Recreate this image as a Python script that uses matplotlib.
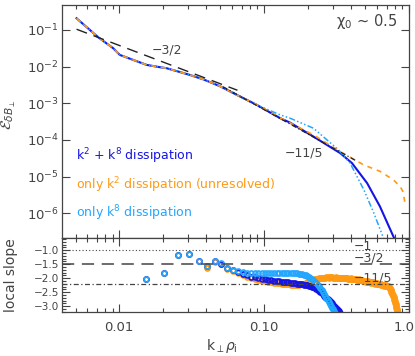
import numpy as np
import matplotlib
matplotlib.use("Agg")
import matplotlib.pyplot as plt
import matplotlib.transforms as mtransforms
from matplotlib.ticker import LogLocator, FixedLocator, MultipleLocator, FuncFormatter, NullFormatter

# ---- spectra ----
k_low = [0.00508, 0.00716, 0.00909, 0.0101, 0.0125, 0.0155, 0.0191, 0.0212,
         0.0256, 0.0305, 0.0381, 0.0497, 0.0648, 0.0891]
E_low = [0.208, 0.0632, 0.0317, 0.0208, 0.0152, 0.0111, 0.00962, 0.00904,
         0.00730, 0.00597, 0.00447, 0.00290, 0.00169, 0.00090]

k_blue_tail = [0.129, 0.151, 0.219, 0.335, 0.404, 0.514, 0.63, 0.78, 0.846]
E_blue_tail = [3.91e-4, 2.96e-4, 1.23e-4, 4.35e-5, 2.32e-5, 6.59e-6, 1.52e-6, 2.31e-7, 1.2e-7]

k_k2_tail = [0.129, 0.219, 0.335, 0.486, 0.634, 0.78, 0.87, 0.91, 0.935]
E_k2_tail = [3.98e-4, 1.37e-4, 4.8e-5, 2.08e-5, 1.37e-5, 8.1e-6, 5.3e-6, 3.8e-6, 2.0e-6]

k_k8_tail = [0.129, 0.151, 0.219, 0.326, 0.392, 0.488, 0.572, 0.66, 0.72]
E_k8_tail = [4.81e-4, 3.91e-4, 2.08e-4, 5.33e-5, 2.32e-5, 4.34e-6, 1.0e-6, 2.31e-7, 1.0e-7]

# reference power laws
ref32_k = [0.00508, 0.0655]
ref32_amp = 0.1045
ref115_k = [0.052, 0.43]
ref115_amp = 2.62e-3

# ---- local slopes, one per Fourier mode starting at n = 3 ----
dk = 0.00508
slope_blue = [
    -2.04, -1.80, -1.17, -1.13, -1.39, -1.57, -1.39, -1.48, -1.63, -1.71, -1.78,
    -1.85, -1.90, -1.94, -1.97, -2.00, -2.02, -2.04, -2.06, -2.08, -2.09,
    -2.10, -2.11, -2.12, -2.13, -2.14, -2.15, -2.16, -2.17, -2.18, -2.19,
    -2.20, -2.21, -2.22, -2.23, -2.24, -2.25, -2.27, -2.29, -2.31, -2.33,
    -2.36, -2.39, -2.42, -2.46, -2.50, -2.54, -2.58, -2.62, -2.66, -2.70,
    -2.74, -2.78, -2.82, -2.86, -2.90, -2.95, -2.99, -3.03, -3.07, -3.11,
    -3.15, -3.19, -3.23]
slope_k8 = [
    -2.04, -1.80, -1.17, -1.13, -1.39, -1.55, -1.39, -1.47, -1.62, -1.70, -1.76,
    -1.79, -1.80, -1.80, -1.81, -1.81, -1.80, -1.80, -1.80, -1.81, -1.81,
    -1.81, -1.81, -1.81, -1.82, -1.82, -1.82, -1.82, -1.82, -1.83, -1.83,
    -1.84, -1.85, -1.86, -1.88, -1.90, -1.93, -1.96, -1.99, -2.03, -2.07,
    -2.12, -2.17, -2.23, -2.29, -2.35, -2.42, -2.49, -2.56, -2.63, -2.70,
    -2.77, -2.84, -2.91, -2.98, -3.05, -3.12, -3.19, -3.26]
slope_k2 = [
    -2.04, -1.81, -1.18, -1.14, -1.40, -1.62, -1.41, -1.50, -1.66, -1.74, -1.83,
    -1.90, -1.95, -1.99, -2.03, -2.06, -2.09, -2.11, -2.13, -2.15, -2.16,
    -2.17, -2.18, -2.19, -2.20, -2.21, -2.22, -2.23, -2.23, -2.24, -2.24,
    -2.23, -2.22, -2.21, -2.19, -2.17, -2.15, -2.13, -2.11, -2.08, -2.06,
    -2.04, -2.03, -2.02, -2.01, -2.00, -1.99, -1.99, -1.98, -1.98, -1.97,
    -1.97, -1.98, -1.97, -1.96, -1.97, -1.98, -1.99, -1.98, -1.97, -1.98,
    -1.99, -2.00, -1.99, -1.98, -1.99, -2.00, -2.01, -2.00, -1.99, -2.00,
    -2.01, -2.02, -2.03, -2.02, -2.01, -2.02, -2.03, -2.04, -2.03, -2.02,
    -2.03, -2.04, -2.05, -2.06, -2.05, -2.04, -2.05, -2.06, -2.07, -2.08,
    -2.09, -2.10, -2.10, -2.09, -2.10, -2.11, -2.12, -2.13, -2.12, -2.11,
    -2.12, -2.13, -2.14, -2.15, -2.16, -2.15, -2.14, -2.15, -2.16, -2.17,
    -2.18, -2.19, -2.18, -2.17, -2.18, -2.19, -2.20, -2.21, -2.22, -2.21,
    -2.20, -2.21, -2.22, -2.23, -2.24, -2.23, -2.24, -2.25, -2.26, -2.27,
    -2.25, -2.26, -2.26, -2.27, -2.27, -2.28, -2.28, -2.29, -2.29, -2.30,
    -2.32, -2.35, -2.38, -2.41, -2.44, -2.48, -2.52, -2.56, -2.60, -2.64,
    -2.68, -2.72, -2.77, -2.82, -2.88, -2.94, -3.00, -3.06, -3.12, -3.18,
    -3.24, -3.30]

c_blue = "#1414e6"
c_orange = "#ff9a12"
c_light = "#22a6ff"
c_gray = "#444444"

plt.rcParams["font.family"] = "DejaVu Sans"
plt.rcParams["mathtext.fontset"] = "dejavusans"

fig = plt.figure(figsize=(4.15, 3.56), dpi=100)
ax1 = fig.add_axes([0.149, 0.3315, 0.8366, 0.6545])
ax2 = fig.add_axes([0.149, 0.1244, 0.8366, 0.2071], sharex=ax1)

# top panel: spectra
ax1.plot(k_low + k_blue_tail, E_low + E_blue_tail, color=c_blue, lw=1.5)
ax1.plot(k_low + k_k8_tail, E_low + E_k8_tail, color=c_light, lw=1.1,
         ls=(0, (4, 1.5, 1, 1.5, 1, 1.5, 1, 1.5)))
ax1.plot(k_low + k_k2_tail, E_low + E_k2_tail, color=c_orange, lw=1.2, ls=(0, (3, 3)))

k32 = np.array(ref32_k)
ax1.plot(k32, ref32_amp * (k32 / ref32_k[0]) ** -1.5, color="#222222", lw=1.0, ls=(0, (8, 5)))
k115 = np.array(ref115_k)
ax1.plot(k115, ref115_amp * (k115 / 0.0538) ** -2.2, color="#222222", lw=0.9,
         ls=(0, (4, 2, 1, 2)))

ax1.text(0.0214, 0.0285, "\u22123/2", color=c_gray, fontsize=9, ha="center", va="center")
ax1.text(0.189, 4.34e-5, "\u221211/5", color=c_gray, fontsize=9, ha="center", va="center")
ax1.text(0.965, 0.931, "\u03c7$_0$ ~ 0.5", color=c_gray, fontsize=10.5,
         ha="right", va="center", transform=ax1.transAxes)
ax1.text(0.042, 0.353, "k$^2$ + k$^8$ dissipation", color=c_blue, fontsize=9,
         ha="left", va="center", transform=ax1.transAxes)
ax1.text(0.042, 0.227, "only k$^2$ dissipation (unresolved)", color=c_orange, fontsize=9,
         ha="left", va="center", transform=ax1.transAxes)
ax1.text(0.042, 0.106, "only k$^8$ dissipation", color=c_light, fontsize=9,
         ha="left", va="center", transform=ax1.transAxes)

ax1.set_xscale("log")
ax1.set_yscale("log")
ax1.set_xlim(0.00402, 1.0)
ax1.set_ylim(2.1e-7, 0.48)
ax1.yaxis.set_major_locator(LogLocator(base=10, numticks=20))
ax1.yaxis.set_minor_locator(FixedLocator([]))
ax1.set_ylabel(r"$\mathcal{E}_{\delta B_\perp}$", fontsize=11, color=c_gray)
ax1.yaxis.set_label_coords(-0.125, 0.53)
plt.setp(ax1.get_xticklabels(), visible=False)

# bottom panel: local slope
k_blue = dk * np.arange(3, 3 + len(slope_blue))
k_k2 = dk * np.arange(3, 3 + len(slope_k2))
k_k8 = dk * np.arange(3, 3 + len(slope_k8))
ax2.plot(k_k2, slope_k2, ls="none", marker="o", ms=3.6, mfc="none", mec=c_orange, mew=1.2)
ax2.plot(k_blue, slope_blue, ls="none", marker="o", ms=3.6, mfc="none", mec=c_blue, mew=1.2)
ax2.plot(k_k8, slope_k8, ls="none", marker="o", ms=3.6, mfc="none", mec=c_light, mew=1.2)

ax2.axhline(-1.0, color=c_gray, lw=0.8, ls=(0, (1, 2)))
ax2.axhline(-1.5, color=c_gray, lw=1.1, ls=(0, (8, 5)))
ax2.axhline(-2.2, color=c_gray, lw=0.9, ls=(0, (4, 2, 1, 2)))
ax2.text(0.412, -0.85, "\u22121", color=c_gray, fontsize=9, ha="left", va="center")
ax2.text(0.412, -1.26, "\u22123/2", color=c_gray, fontsize=9, ha="left", va="center")
ax2.text(0.412, -1.98, "\u221211/5", color=c_gray, fontsize=9, ha="left", va="center")

ax2.set_ylim(-3.2, -0.56)
ax2.yaxis.set_major_locator(MultipleLocator(0.5))
ax2.yaxis.set_minor_locator(MultipleLocator(0.1))
ax2.yaxis.set_major_formatter(FuncFormatter(lambda v, p: ("%.1f" % v).replace("-", "\u2212")))
ax2.set_ylabel("local slope", fontsize=10, color=c_gray)
ax2.yaxis.set_label_coords(-0.125, 0.5)

ax2.xaxis.set_major_locator(FixedLocator([0.01, 0.1, 1.0]))
ax2.xaxis.set_major_formatter(FuncFormatter(lambda v, p: {0.01: "0.01", 0.1: "0.10", 1.0: "1.0"}.get(round(v, 3), "")))
ax2.xaxis.set_minor_locator(LogLocator(base=10, subs=np.arange(2, 10), numticks=20))
ax2.xaxis.set_minor_formatter(NullFormatter())
ax2.set_xlabel(r"k$_\perp$$\rho_\mathrm{i}$", fontsize=10, color=c_gray)
ax2.xaxis.set_label_coords(0.46, -0.34)

for ax in (ax1, ax2):
    ax.tick_params(which="both", direction="in", top=True, right=True, colors=c_gray,
                   labelcolor=c_gray, labelsize=9.5, width=0.8)
    ax.tick_params(which="major", length=6)
    ax.tick_params(which="minor", length=3)
    for s in ax.spines.values():
        s.set_color(c_gray)
        s.set_linewidth(0.9)
ax1.tick_params(axis="y", pad=2)
ax2.tick_params(axis="y", pad=2, labelsize=7.5)
ax2.tick_params(axis="x", pad=7)

# nudge the last x label so it stays inside the canvas
fig.canvas.draw()
last = ax2.get_xticklabels()[-1]
last.set_transform(last.get_transform() + mtransforms.ScaledTranslation(-5 / 100, 0, fig.dpi_scale_trans))

fig.savefig("out.png", dpi=100)
